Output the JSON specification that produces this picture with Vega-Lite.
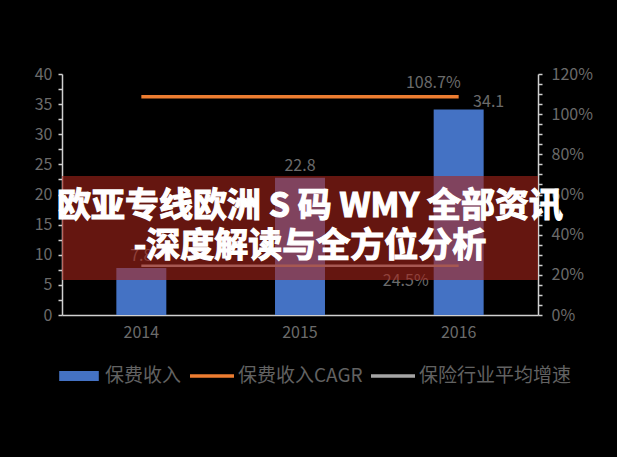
{
  "$schema": "https://vega.github.io/schema/vega-lite/v6.json",
  "width": 476,
  "height": 241,
  "autosize": {"type": "none"},
  "padding": {"left": 62, "top": 74, "right": 79, "bottom": 142},
  "background": "#000000",
  "config": {
    "view": {"stroke": null},
    "font": "Noto Sans CJK SC",
    "axis": {
      "grid": false,
      "title": null,
      "domainColor": "#d0d0d0",
      "domainWidth": 1.5,
      "tickColor": "#d0d0d0",
      "tickWidth": 1.5,
      "tickSize": 4,
      "labelColor": "#6b6b6b",
      "labelFontSize": 16,
      "labelFont": "Noto Sans CJK SC",
      "labelOverlap": false
    }
  },
  "datasets": {
    "main": [
      {"year": "2014", "series": "保费收入", "value": 7.8},
      {"year": "2015", "series": "保费收入", "value": 22.8},
      {"year": "2016", "series": "保费收入", "value": 34.1},
      {"year": "2014", "series": "保费收入CAGR", "value": 1.087},
      {"year": "2015", "series": "保费收入CAGR", "value": 1.087},
      {"year": "2016", "series": "保费收入CAGR", "value": 1.087},
      {"year": "2014", "series": "保险行业平均增速", "value": 0.245},
      {"year": "2015", "series": "保险行业平均增速", "value": 0.245},
      {"year": "2016", "series": "保险行业平均增速", "value": 0.245}
    ],
    "banner_box": [{"top": 23.07, "bottom": 5.8}],
    "banner_text": [
      {"text": "欧亚专线欧洲 S 码 WMY 全部资讯", "pos": 17.9},
      {"text": "-深度解读与全方位分析", "pos": 11.3}
    ]
  },
  "layer": [
    {
      "data": {"name": "main"},
      "transform": [{"filter": "datum.series === '保费收入'"}],
      "encoding": {
        "x": {
          "field": "year",
          "type": "ordinal",
          "scale": {"paddingInner": 0, "paddingOuter": 0},
          "axis": {"ticks": false, "labelAngle": 0, "labelPadding": 9, "orient": "bottom"}
        },
        "y": {
          "field": "value",
          "type": "quantitative",
          "scale": {"domain": [0, 40], "nice": false},
          "axis": {
            "orient": "left",
            "values": [0, 2.5, 5, 7.5, 10, 12.5, 15, 17.5, 20, 22.5, 25, 27.5, 30, 32.5, 35, 37.5, 40],
            "labelExpr": "datum.value % 5 === 0 ? datum.label : ''",
            "labelPadding": 6
          }
        }
      },
      "layer": [
        {
          "mark": {"type": "bar", "width": {"band": 0.315}},
          "encoding": {
            "color": {
              "field": "series",
              "type": "nominal",
              "scale": {
                "domain": ["保费收入", "保费收入CAGR", "保险行业平均增速"],
                "range": ["#4472c4", "#ed7d31", "#a5a5a5"]
              },
              "legend": {
                "title": null,
                "orient": "none",
                "direction": "horizontal",
                "legendX": -5,
                "legendY": 280,
                "symbolSize": 1936,
                "labelFontSize": 19,
                "labelColor": "#626262",
                "labelFont": "Noto Sans CJK SC",
                "labelOffset": 4,
                "columnPadding": 8,
                "encode": {
                  "symbols": {
                    "update": {
                      "shape": {"signal": "datum.value === '保费收入' ? 'M-0.9,-0.23H0.9V0.23H-0.9Z' : 'M-1,-0.085H1V0.085H-1Z'"},
                      "fill": {"scale": "color", "field": "value"},
                      "stroke": {"value": "transparent"},
                      "strokeWidth": {"value": 0}
                    }
                  }
                }
              }
            }
          }
        },
        {
          "transform": [{"filter": "datum.year !== '2016'"}],
          "mark": {"type": "text", "baseline": "bottom", "dy": -4, "fontSize": 16, "color": "#6b6b6b"},
          "encoding": {"text": {"field": "value", "type": "quantitative", "format": ".1f"}}
        },
        {
          "transform": [{"filter": "datum.year === '2016'"}],
          "mark": {"type": "text", "baseline": "bottom", "dx": 30, "dy": 0, "fontSize": 16, "color": "#6b6b6b"},
          "encoding": {"text": {"field": "value", "type": "quantitative", "format": ".1f"}}
        }
      ]
    },
    {
      "data": {"name": "main"},
      "transform": [{"filter": "datum.series !== '保费收入'"}],
      "encoding": {
        "x": {"field": "year", "type": "ordinal"},
        "y": {
          "field": "value",
          "type": "quantitative",
          "scale": {"domain": [0, 1.2], "nice": false},
          "axis": {
            "orient": "right",
            "format": ".0%",
            "values": [0, 0.05, 0.1, 0.15, 0.2, 0.25, 0.3, 0.35, 0.4, 0.45, 0.5, 0.55, 0.6, 0.65, 0.7, 0.75, 0.8, 0.85, 0.9, 0.95, 1.0, 1.05, 1.1, 1.15, 1.2],
            "labelExpr": "round(datum.value * 100) % 20 === 0 ? datum.label : ''",
            "labelPadding": 9
          }
        }
      },
      "layer": [
        {
          "mark": {"type": "line", "strokeCap": "butt"},
          "encoding": {
            "color": {"field": "series", "type": "nominal"},
            "strokeWidth": {
              "field": "series",
              "type": "nominal",
              "scale": {"domain": ["保费收入CAGR", "保险行业平均增速"], "range": [3.5, 2.5]},
              "legend": null
            }
          }
        },
        {
          "transform": [{"filter": "datum.year === '2016' && datum.series === '保费收入CAGR'"}],
          "mark": {"type": "text", "align": "right", "baseline": "bottom", "dy": -6, "dx": 2, "fontSize": 16, "color": "#6b6b6b"},
          "encoding": {"text": {"field": "value", "type": "quantitative", "format": ".1%"}}
        },
        {
          "transform": [{"filter": "datum.year === '2016' && datum.series === '保险行业平均增速'"}],
          "mark": {"type": "text", "align": "right", "baseline": "top", "dy": 7, "dx": -30, "fontSize": 16, "color": "#6b6b6b"},
          "encoding": {"text": {"field": "value", "type": "quantitative", "format": ".1%"}}
        }
      ]
    },
    {
      "layer": [
        {
          "data": {"name": "banner_box"},
          "mark": {"type": "rect", "fill": "#a8241b", "opacity": 0.6},
          "encoding": {
            "y": {"field": "top", "type": "quantitative", "scale": {"domain": [0, 40], "nice": false}, "axis": null},
            "y2": {"field": "bottom"}
          }
        },
        {
          "data": {"name": "banner_text"},
          "mark": {"type": "text", "fontSize": 34, "fontWeight": "bold", "color": "#ffffff", "stroke": "#ffffff", "strokeWidth": 1.2, "baseline": "middle", "dx": 10, "font": "Noto Sans CJK SC"},
          "encoding": {
            "y": {"field": "pos", "type": "quantitative"},
            "text": {"field": "text", "type": "nominal"}
          }
        }
      ]
    }
  ],
  "resolve": {"scale": {"y": "independent"}}
}
